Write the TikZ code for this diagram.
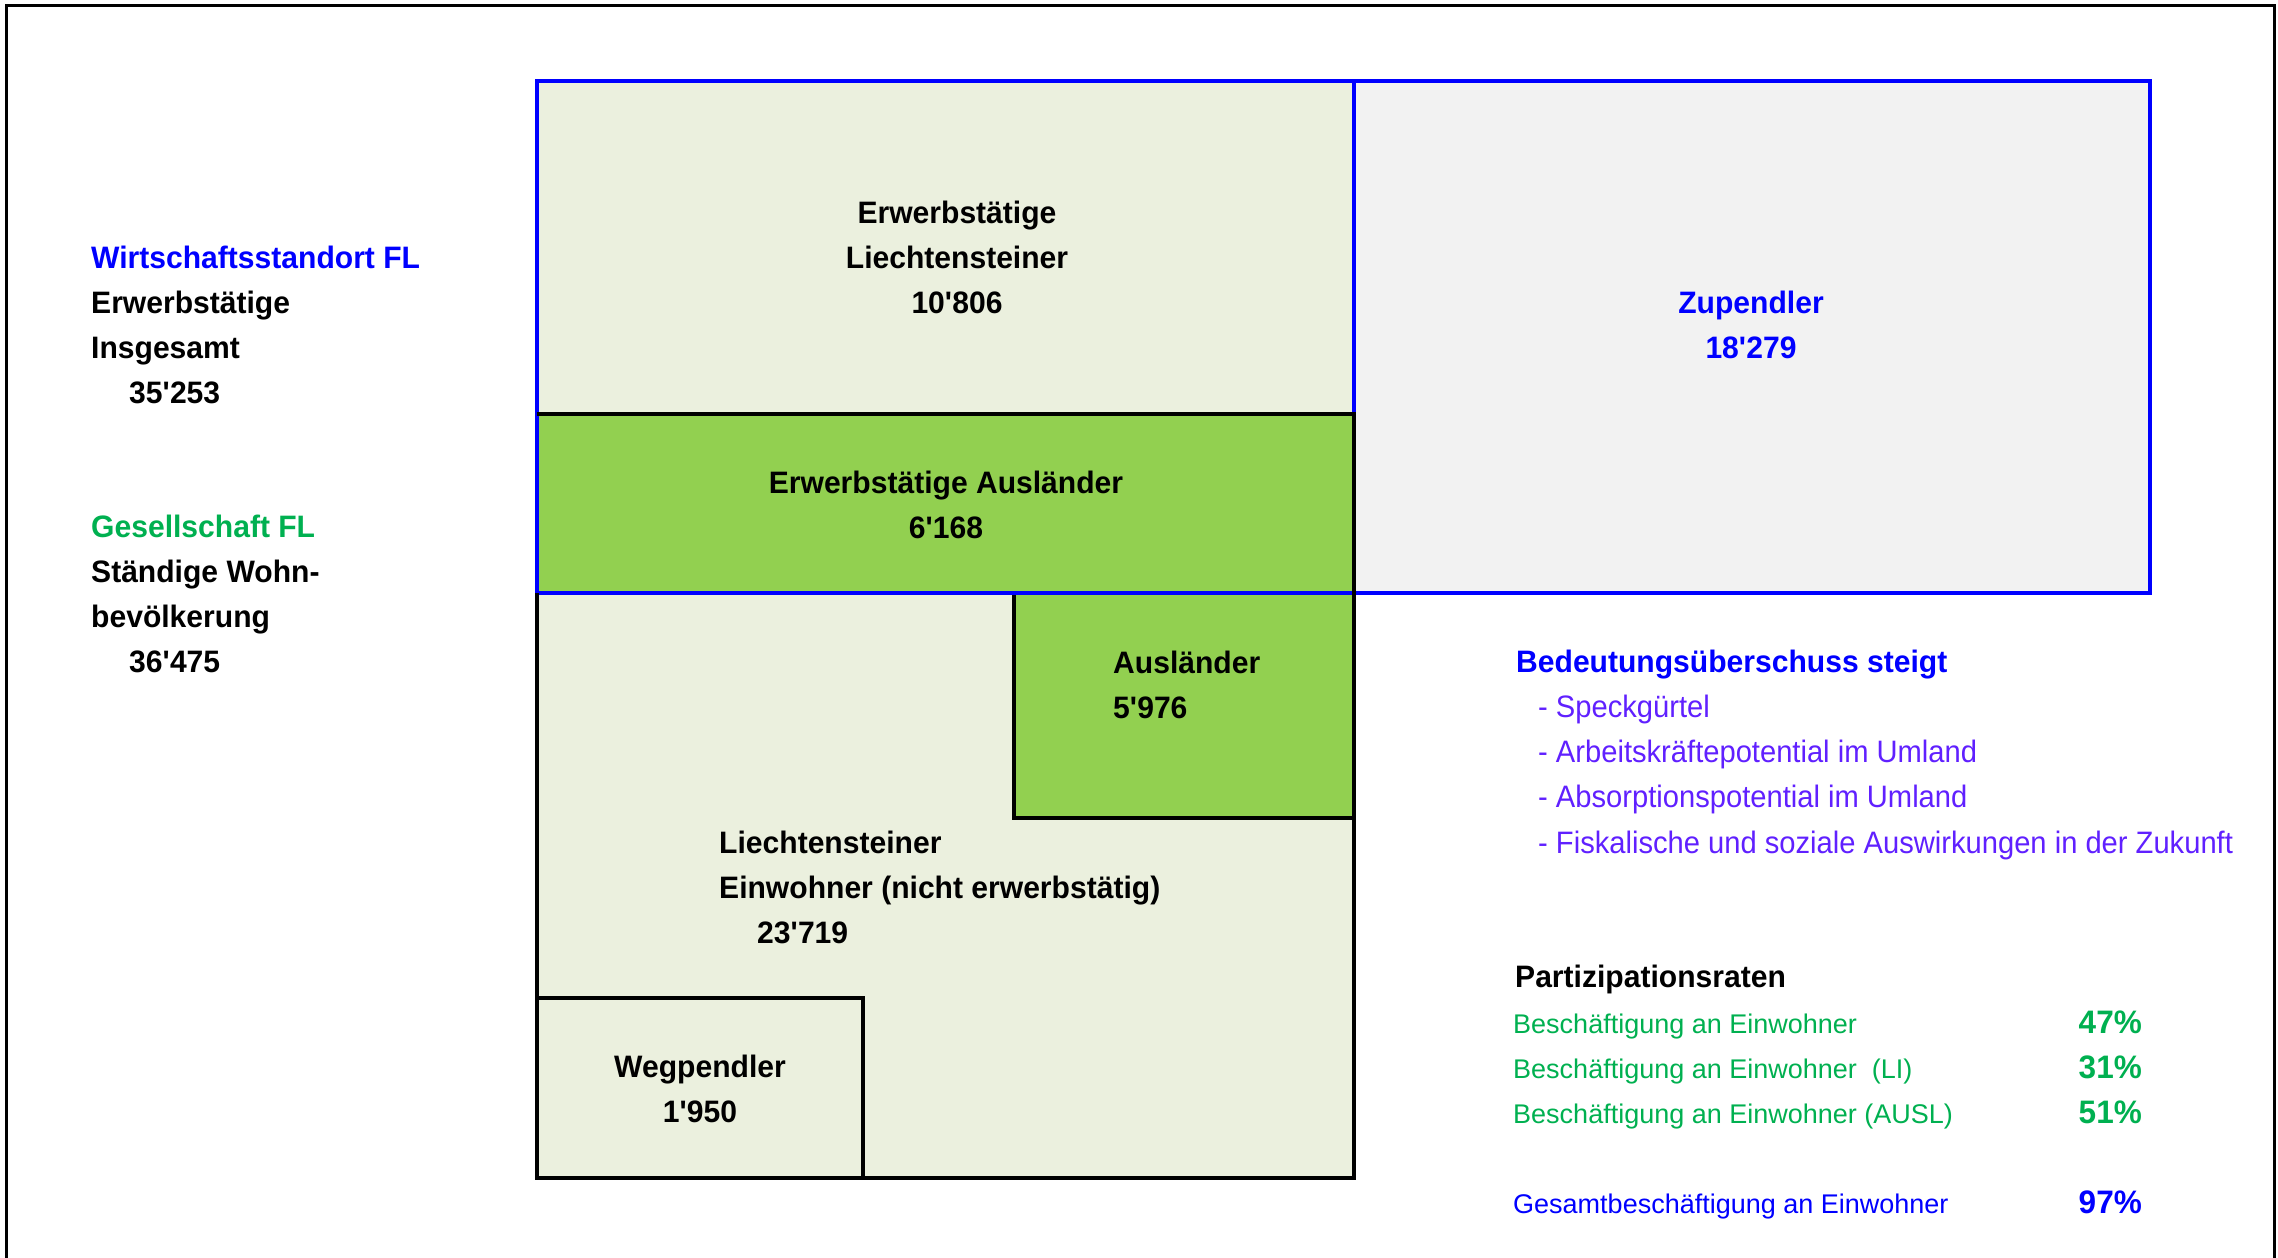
\documentclass[tikz,border=0pt]{standalone}
\usepackage{fontspec}
\setmainfont{Liberation Sans}[FakeStretch=0.97]
\newfontfamily\itemfont{Liberation Sans}[FakeStretch=0.94]
\newfontfamily\ratefont{Liberation Sans}
\newcommand\fbig{\fontsize{31}{37}\selectfont}
\newcommand\fsmall{\fontsize{27}{32}\selectfont}
\newcommand\fpct{\fontsize{32.5}{38}\selectfont}
\newcommand\ap{\textquotesingle}
\definecolor{fillbeige}{RGB}{235,240,222}
\definecolor{fillgreen}{RGB}{146,208,80}
\definecolor{fillgrey}{RGB}{242,242,242}
\definecolor{txtblue}{RGB}{0,0,255}
\definecolor{txtgreen}{RGB}{0,176,80}
\definecolor{txtviolet}{RGB}{96,32,255}
\begin{document}
\begin{tikzpicture}[x=1pt,y=-1pt,
    lbl/.style={inner sep=0pt,anchor=base west,font=\fbig\bfseries},
    clbl/.style={lbl,anchor=base},
    itm/.style={inner sep=0pt,anchor=base west,font=\itemfont\fbig,text=txtviolet},
    rate/.style={inner sep=0pt,anchor=base west,font=\ratefont\fsmall},
    pct/.style={inner sep=0pt,anchor=base east,font=\fpct\bfseries},
    blueline/.style={draw=txtblue,line width=3.3pt},
    blackline/.style={draw=black,line width=3.5pt}]

\useasboundingbox (0,0) rectangle (2278,1258);
% frame
\draw[line width=3pt] (6.5,1258) -- (6.5,5.5) -- (2274.5,5.5) -- (2274.5,1258);

% areas
\fill[fillbeige] (537,81) rectangle (1354,1178);
\fill[fillgreen] (537,414) rectangle (1354,593);
\fill[fillgreen] (1014,593) rectangle (1354,818);
\fill[fillgrey] (1354,81) rectangle (2150,593);

% outlines
\draw[blackline] (537,998) -- (863,998) -- (863,1178);
\draw[blackline] (1014,593) -- (1014,818) -- (1354,818);
\draw[blueline] (537,81) rectangle (2150,593);
\draw[blueline] (1354,81) -- (1354,414);
\draw[blackline] (537,414) -- (1354,414) -- (1354,1178) -- (537,1178) -- (537,593);

% left column
\node[lbl,text=txtblue] (wfl) at (91,268) {Wirtschaftsstandort FL};
\node[lbl] (wfl2) at (91,313) {Erwerbstätige};
\node[lbl] (wfl3) at (91,358) {Insgesamt};
\node[lbl] (wflnum) at (129,403) {35\ap253};
\node[lbl,text=txtgreen] (gfl) at (91,537) {Gesellschaft FL};
\node[lbl] (gfl2) at (91,582) {Ständige Wohn-};
\node[lbl] (gfl3) at (91,627) {bevölkerung};
\node[lbl] (gflnum) at (129,672) {36\ap475};

% boxes
\node[clbl] (erwli) at (957,223) {Erwerbstätige};
\node[clbl] (erwli2) at (957,268) {Liechtensteiner};
\node[clbl] (erwlinum) at (957,313) {10\ap806};
\node[clbl] (erwaus) at (946,493) {Erwerbstätige Ausländer};
\node[clbl] (erwausnum) at (946,538) {6\ap168};
\node[clbl,text=txtblue] (zup) at (1751,313) {Zupendler};
\node[clbl,text=txtblue] (zupnum) at (1751,358) {18\ap279};
\node[lbl] (aus) at (1113,673) {Ausländer};
\node[lbl] (ausnum) at (1113,718) {5\ap976};
\node[lbl] (einw) at (719,853) {Liechtensteiner};
\node[lbl] (einw2) at (719,898) {Einwohner (nicht erwerbstätig)};
\node[lbl] (einwnum) at (757,943) {23\ap719};
\node[clbl] (weg) at (700,1077) {Wegpendler};
\node[clbl] (wegnum) at (700,1122) {1\ap950};

% right column
\node[lbl,text=txtblue] (bed) at (1516,672) {Bedeutungsüberschuss steigt};
\node[itm] (bed1) at (1538,717) {- Speckgürtel};
\node[itm] (bed2) at (1538,762) {- Arbeitskräftepotential im Umland};
\node[itm] (bed3) at (1538,807) {- Absorptionspotential im Umland};
\node[itm] (bed4) at (1538,853) {- Fiskalische und soziale Auswirkungen in der Zukunft};

\node[lbl] (part) at (1515,987) {Partizipationsraten};
\node[rate,text=txtgreen] (rate1) at (1513,1033) {Beschäftigung an Einwohner};
\node[rate,text=txtgreen] (rate2) at (1513,1078) {Beschäftigung an Einwohner\ \ (LI)};
\node[rate,text=txtgreen] (rate3) at (1513,1123) {Beschäftigung an Einwohner (AUSL)};
\node[rate,text=txtblue] (rate4) at (1513,1213) {Gesamtbeschäftigung an Einwohner};
\node[pct,text=txtgreen] (pct1) at (2142,1033) {47\%};
\node[pct,text=txtgreen] (pct2) at (2142,1078) {31\%};
\node[pct,text=txtgreen] (pct3) at (2142,1123) {51\%};
\node[pct,text=txtblue] (pct4) at (2142,1213) {97\%};
\end{tikzpicture}
\end{document}
